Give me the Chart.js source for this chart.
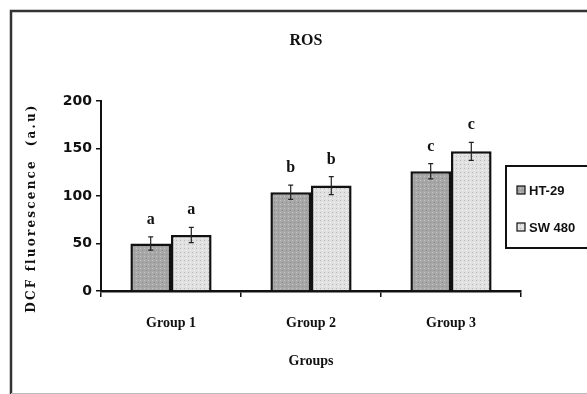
<!DOCTYPE html>
<html>
<head>
<meta charset="utf-8">
<title>ROS</title>
<script src="https://cdn.jsdelivr.net/npm/chart.js@4/dist/chart.umd.min.js"></script>
<style>
    body { margin: 0; background: #fff; }
    #rosChart { display: block; }
</style>
</head>
<body>
<canvas id="rosChart" width="587" height="394"></canvas>
<script>
const groups = ["Group 1", "Group 2", "Group 3"];
const ht29Values = [50, 104, 126];
const sw480Values = [59, 111, 147];
const ht29Errors = [7, 7.5, 8];
const sw480Errors = [8, 9.5, 9.5];
const ht29Letters = ["a", "b", "c"];
const sw480Letters = ["a", "b", "c"];
const seriesNames = ["HT-29", "SW 480"];

const serif = "'Liberation Serif', 'Times New Roman', serif";

// dotted fills like the old excel bars
function makePattern(base, dotA, dotB) {
    const c = document.createElement("canvas");
    c.width = 4;
    c.height = 4;
    const g = c.getContext("2d");
    g.fillStyle = base;
    g.fillRect(0, 0, 4, 4);
    g.fillStyle = dotA;
    g.fillRect(0, 0, 1, 1);
    g.fillStyle = dotB;
    g.fillRect(2, 2, 1, 1);
    return g.createPattern(c, "repeat");
}

const htFill = makePattern("#a7a7a7", "#c6c6c6", "#8d8d8d");
const swFill = makePattern("#e0e0e0", "#b9b9b9", "#f6f6f6");

const errorsByDataset = [ht29Errors, sw480Errors];
const lettersByDataset = [ht29Letters, sw480Letters];

const decorations = {
    id: "decorations",
    beforeDraw(chart) {
        const ctx = chart.ctx;
        ctx.save();
        ctx.fillStyle = "#fff";
        ctx.fillRect(0, 0, chart.width, chart.height);
        ctx.restore();
    },
    afterDatasetsDraw(chart) {
        const ctx = chart.ctx;
        const y = chart.scales.y;
        ctx.save();
        chart.data.datasets.forEach((ds, i) => {
            const meta = chart.getDatasetMeta(i);
            meta.data.forEach((bar, j) => {
                const v = ds.data[j];
                const err = errorsByDataset[i][j];
                const top = y.getPixelForValue(v + err);
                const bottom = y.getPixelForValue(v - err);
                ctx.strokeStyle = "#222";
                ctx.lineWidth = 1.2;
                ctx.beginPath();
                ctx.moveTo(bar.x, top);
                ctx.lineTo(bar.x, bottom);
                ctx.moveTo(bar.x - 2.5, top);
                ctx.lineTo(bar.x + 2.5, top);
                ctx.moveTo(bar.x - 2.5, bottom);
                ctx.lineTo(bar.x + 2.5, bottom);
                ctx.stroke();

                ctx.fillStyle = "#111";
                ctx.font = "bold 16px " + serif;
                ctx.textAlign = "center";
                ctx.textBaseline = "middle";
                ctx.fillText(lettersByDataset[i][j], bar.x, top - 17);
            });
        });
        ctx.restore();
    },
    afterDraw(chart) {
        const ctx = chart.ctx;
        ctx.save();

        // outer frame (right and bottom are cut off in the source)
        ctx.strokeStyle = "#333";
        ctx.lineWidth = 2.5;
        ctx.beginPath();
        ctx.moveTo(11, chart.height);
        ctx.lineTo(11, 11);
        ctx.lineTo(chart.width, 11);
        ctx.stroke();
        ctx.strokeStyle = "#bbb";
        ctx.lineWidth = 1;
        ctx.beginPath();
        ctx.moveTo(11, 393.5);
        ctx.lineTo(chart.width, 393.5);
        ctx.stroke();

        // title
        ctx.fillStyle = "#111";
        ctx.font = "bold 16px " + serif;
        ctx.textAlign = "center";
        ctx.textBaseline = "middle";
        ctx.fillText("ROS", 306, 41);

        // y axis title, spaced out like the original
        ctx.save();
        ctx.translate(32, 208);
        ctx.rotate(-Math.PI / 2);
        ctx.font = "bold 12px 'DejaVu Serif', serif";
        ctx.letterSpacing = "2.2px";
        ctx.fillText("DCF fluorescence  (a.u)", 0, 0);
        ctx.restore();

        // legend box
        ctx.strokeStyle = "#111";
        ctx.lineWidth = 2;
        ctx.strokeRect(506, 166, 120, 82);
        const fills = [htFill, swFill];
        const rows = [190, 227];
        ctx.font = "bold 13px 'Liberation Sans', Arial, sans-serif";
        ctx.textAlign = "left";
        ctx.textBaseline = "middle";
        seriesNames.forEach((name, i) => {
            ctx.fillStyle = fills[i];
            ctx.fillRect(517, rows[i] - 4, 8, 8);
            ctx.strokeStyle = "#111";
            ctx.lineWidth = 1.2;
            ctx.strokeRect(517, rows[i] - 4, 8, 8);
            ctx.fillStyle = "#111";
            ctx.fillText(name, 529, rows[i] + 1);
        });

        ctx.restore();
    }
};

new Chart(document.getElementById("rosChart"), {
    type: "bar",
    data: {
        labels: groups,
        datasets: [
            {
                label: seriesNames[0],
                data: ht29Values,
                backgroundColor: htFill,
                borderColor: "#111",
                borderWidth: 2.5,
                borderSkipped: "bottom",
                categoryPercentage: 0.58,
                barPercentage: 1.0
            },
            {
                label: seriesNames[1],
                data: sw480Values,
                backgroundColor: swFill,
                borderColor: "#111",
                borderWidth: 2.5,
                borderSkipped: "bottom",
                categoryPercentage: 0.58,
                barPercentage: 1.0
            }
        ]
    },
    options: {
        responsive: false,
        animation: false,
        layout: {
            padding: { top: 101, right: 66, bottom: 0, left: 0 }
        },
        plugins: {
            legend: { display: false },
            title: { display: false },
            tooltip: { enabled: false }
        },
        scales: {
            x: {
                grid: {
                    display: true,
                    drawOnChartArea: false,
                    offset: true,
                    tickLength: 6,
                    color: "#111",
                    lineWidth: 1.5
                },
                border: { color: "#111", width: 2.5 },
                ticks: {
                    color: "#111",
                    padding: 18,
                    font: { family: serif, size: 14, weight: "bold" }
                },
                title: {
                    display: true,
                    text: "Groups",
                    color: "#111",
                    padding: { top: 4, bottom: 24 },
                    font: { family: serif, size: 14, weight: "bold" }
                },
                afterFit: scale => { scale.height = 103; }
            },
            y: {
                min: 0,
                max: 200,
                grid: {
                    display: true,
                    drawOnChartArea: false,
                    tickLength: 5,
                    color: "#111",
                    lineWidth: 1.5
                },
                border: { color: "#111", width: 2 },
                ticks: {
                    stepSize: 50,
                    color: "#111",
                    padding: 4,
                    font: { family: "'DejaVu Sans', sans-serif", size: 14, weight: "bold" }
                },
                afterFit: scale => { scale.width = 101; }
            }
        }
    },
    plugins: [decorations]
});
</script>
</body>
</html>
